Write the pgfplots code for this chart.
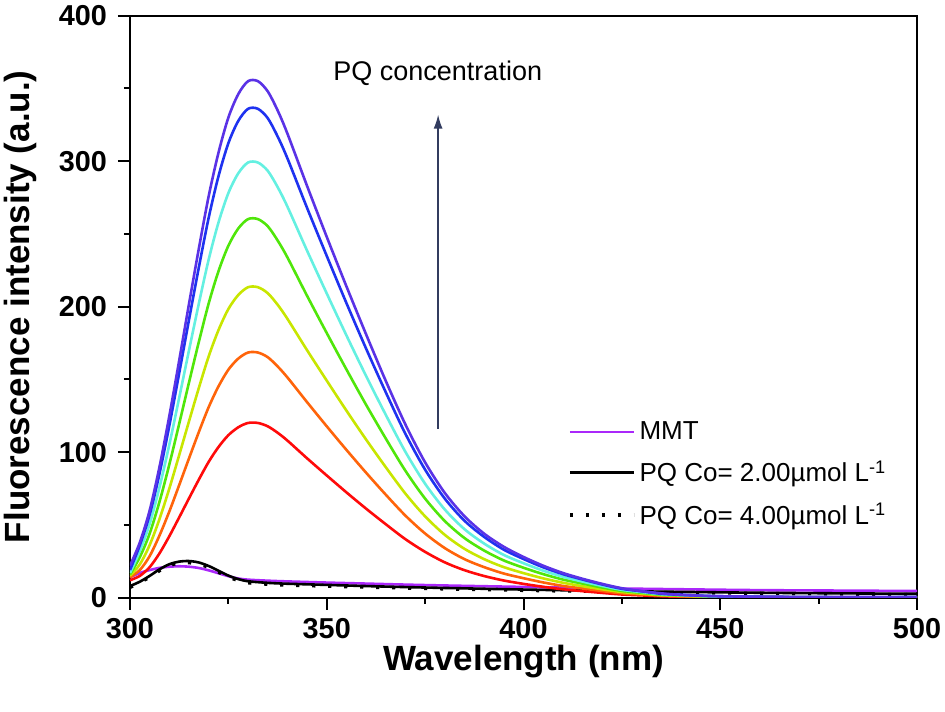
\documentclass[border=0pt]{standalone}
\usepackage{pgfplots}
\pgfplotsset{compat=1.18}
\usepackage{pgfplotstable}
\usepackage{fontspec}
\setmainfont{Liberation Sans}
\usetikzlibrary{arrows.meta}

\definecolor{cT}{RGB}{90,50,230}
\definecolor{cB}{RGB}{30,50,240}
\definecolor{cC}{RGB}{100,240,225}
\definecolor{cG}{RGB}{80,230,10}
\definecolor{cY}{RGB}{200,230,0}
\definecolor{cO}{RGB}{255,100,10}
\definecolor{cR}{RGB}{255,10,10}
\definecolor{cM}{RGB}{170,40,250}
\definecolor{cArr}{RGB}{50,60,95}

\pgfplotstableread{
x     T     B     C     G     Y     O     R
300   22    19    17    16    15    14    12
302.5 38    36.1  32.1  27.9  22.9  19    15
305   60    57.0  50.7  44.1  36.2  28.6  21
307.5 90    85.3  75.9  66.0  54.1  42.8  30.5
310   125   118.3 105.3 91.6  75.1  59.3  42.3
312.5 163   154.3 137.4 119.5 98.0  77.4  55.2
315   202   191.1 170.1 148.0 121.3 95.8  68.3
317.5 240   227.1 202.2 175.9 144.2 113.9 81.2
320   276   261.2 232.5 202.3 165.9 131.0 93.4
322.5 306   289.8 258.0 224.5 184.0 145.3 103.6
325   330   312.4 278.1 241.9 198.4 156.7 111.7
327.5 346   327.6 291.6 253.7 208.0 164.3 117.1
330   355   336.0 299.1 260.2 213.4 168.5 120.1
332.5 355   336.0 299.1 260.2 213.4 168.5 120.1
335   348   329.6 293.4 255.3 209.3 165.3 117.8
337.5 335   317.1 282.3 245.6 201.4 159.0 113.4
340   319   302.0 268.8 233.9 191.7 151.4 108.0
345   283   267.9 238.5 207.5 170.1 134.4 95.8
350   248   234.9 209.1 181.9 149.2 117.8 84.0
355   214   202.5 180.3 156.9 128.6 101.6 72.4
360   181   171.2 152.4 132.6 108.7 85.9  61.2
365   149   141.2 125.7 109.4 89.7  70.8  50.5
370   119   112.6 100.2 87.2  71.5  56.4  40.2
375   93    88.0  78.3  68.1  55.9  44.1  31.5
380   72    68.1  60.6  52.7  43.2  34.1  24.3
385   56    52.9  47.1  41.0  33.6  26.5  18.9
390   44    41.8  37.2  32.4  26.5  21.0  14.9
395   35    33.0  29.4  25.6  21.0  16.6  11.8
400   28    26.6  23.7  20.6  16.9  13.4  9.5
405   22    20.9  18.6  16.2  13.3  10.5  7.5
410   17    16.2  14.4  12.5  10.3  8.1   5.8
415   13    12.5  11.1  9.7   7.9   6.3   4.5
420   9.5   9.1   8.1   7.0   5.8   4.6   3.3
425   6.5   6.1   5.4   4.7   3.9   3.0   2.2
430   4.5   4.4   3.9   3.4   2.8   2.2   1.6
435   3     2.7   2.4   2.1   1.7   1.4   1.0
440   2     2.0   1.8   1.6   1.3   1.0   0.7
450   1     1.0   0.9   0.8   0.6   0.5   0.4
475   0.5   0.3   0.3   0.3   0.2   0.2   0.1
500   0.5   0.3   0.3   0.3   0.2   0.2   0.1
}\spectra

\pgfplotstableread{
x     M     S     D
300   14    8     7
302.5 17    11    10.5
305   19    15    14
307.5 20.5  19.5  18.5
310   21.3  23    22
312.5 21.6  24.8  23.8
315   21.3  25.2  24
317.5 20.4  24.2  23
320   18.8  21.8  20.8
322.5 16.8  18.5  17.5
325   14.8  15.2  14.2
327.5 13.2  12.8  11.8
330   12.4  11.3  10.2
335   11.7  10.2  9.2
340   11.2  9.6   8.6
350   10.4  8.8   7.9
360   9.7   8.0   7.2
370   9.0   7.3   6.6
380   8.4   6.7   6.0
400   7.4   5.6   5.0
420   6.5   4.7   4.2
440   5.8   4.0   3.5
460   5.2   3.4   3.0
480   4.9   3.0   2.5
500   4.6   2.7   2.2
}\lows

\begin{document}
\begin{tikzpicture}
\begin{axis}[
  scale only axis,
  width=393.5pt, height=291pt,
  xmin=300, xmax=500, ymin=0, ymax=400,
  xtick={300,350,400,450,500},
  ytick={0,100,200,300,400},
  minor tick num=1,
  xtick pos=bottom, ytick pos=left,
  tick align=outside,
  major tick length=6pt, minor tick length=3pt,
  every tick/.style={black, line width=1pt},
  axis line style={line width=1pt},
  /pgf/number format/assume math mode=true,
  ticklabel style={font=\fontsize{14.4}{16}\selectfont\bfseries},
  xticklabel style={yshift=-1pt},
  yticklabel style={xshift=-2pt},
  xlabel={Wavelength (nm)},
  ylabel={Fluorescence intensity (a.u.)},
  xlabel style={at={(axis description cs:0.5,0)}, anchor=center, yshift=-31.7pt,
    font=\fontsize{17.5}{20}\selectfont\bfseries},
  ylabel style={at={(axis description cs:0,0.5)}, anchor=center, yshift=55pt,
    font=\fontsize{17.5}{20}\selectfont\bfseries},
  legend style={at={(0.5565,0.31)}, anchor=north west, draw=none, fill=none,
    font=\fontsize{13}{15}\selectfont, row sep=5pt, inner sep=0pt},
  legend cell align=left,
  legend image code/.code={\draw[#1] (0pt,0pt) -- (32pt,0pt);},
  clip=true,
]
\addplot[cM, line width=1.3pt, smooth] table[x=x,y=M] {\lows};
\addlegendentry{MMT}
\addplot[black, line width=1.3pt, smooth] table[x=x,y=S] {\lows};
\addlegendentry{PQ Co= 2.00µmol L\textsuperscript{-1}}
\addplot[black, line width=1.6pt, dash pattern=on 1.6pt off 6.4pt, smooth] table[x=x,y=D] {\lows};
\addlegendentry{PQ Co= 4.00µmol L\textsuperscript{-1}}
\addplot[cR, line width=1.3pt, smooth, forget plot] table[x=x,y=R] {\spectra};
\addplot[cO, line width=1.3pt, smooth, forget plot] table[x=x,y=O] {\spectra};
\addplot[cY, line width=1.3pt, smooth, forget plot] table[x=x,y=Y] {\spectra};
\addplot[cG, line width=1.3pt, smooth, forget plot] table[x=x,y=G] {\spectra};
\addplot[cC, line width=1.3pt, smooth, forget plot] table[x=x,y=C] {\spectra};
\addplot[cB, line width=1.3pt, smooth, forget plot] table[x=x,y=B] {\spectra};
\addplot[cT, line width=1.3pt, smooth, forget plot] table[x=x,y=T] {\spectra};
\draw[cArr, line width=0.7pt, -{Latex[length=7pt,width=4.5pt]}] (axis cs:378.3,116) -- (axis cs:378.3,332);
\node[anchor=west, inner sep=0pt, font=\fontsize{13.5}{15}\selectfont] at (axis cs:351.6,360.7) {PQ concentration};
\coordinate (ll) at (rel axis cs:0,0);
\coordinate (ur) at (rel axis cs:1,1);
\end{axis}
\pgfresetboundingbox
\path ([shift={(-65pt,-56.65pt)}]ll) rectangle ([shift={(14pt,7.85pt)}]ur);
\end{tikzpicture}
\end{document}
